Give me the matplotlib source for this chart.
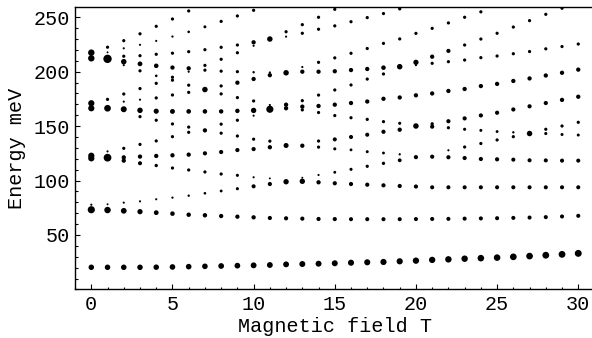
import matplotlib
matplotlib.use("Agg")
import matplotlib.pyplot as plt
from matplotlib.ticker import MultipleLocator

# magnetic field values (T), one column of levels per value
field = list(range(31))

# lowest level and its spot weight
ground = [20.3, 20.3, 20.3, 20.3, 20.4, 20.6, 20.9, 21.2, 21.5, 21.8, 22.1,
          22.4, 23.0, 23.3, 23.6, 24.0, 24.5, 24.9, 25.2, 25.8, 26.4,
          27.1, 27.6, 28.2, 28.7, 29.2, 29.9, 30.6, 31.4, 32.2, 33.1]
ground_w = [4.6, 4.6, 4.6, 4.6, 4.6, 4.7, 4.7, 4.7, 4.8, 4.8, 4.9,
            4.9, 4.9, 5.0, 5.0, 5.0, 5.1, 5.1, 5.2, 5.2, 5.3,
            5.3, 5.4, 5.4, 5.5, 5.5, 5.6, 5.6, 5.7, 5.7, 5.8]

# second level
second = [73.2, 72.9, 72.2, 71.4, 70.5, 69.6, 68.6, 68.1, 67.4, 66.8, 66.2,
          65.6, 65.3, 65.0, 64.7, 64.6, 64.5, 64.5, 64.5, 64.5, 64.6,
          64.7, 64.8, 65.0, 65.2, 65.4, 65.7, 66.0, 66.4, 67.0, 67.6]
second_w = [6.0, 5.4, 4.8, 4.4, 4.0, 3.8, 3.7, 3.7, 3.6, 3.6, 3.6,
            3.5, 3.5, 3.5, 3.5, 3.5, 3.4, 3.4, 3.4, 3.4, 3.4,
            3.4, 3.4, 3.4, 3.4, 3.4, 3.4, 3.4, 3.4, 3.4, 3.4]

# higher levels, one list per field value (meV)
upper = [
    [77.8, 120.4, 122.8, 166.4, 171.0, 212.3, 217.5],
    [78.2, 121.0, 126.8, 166.4, 174.6, 211.8, 217.8, 222.5],
    [79.7, 118.3, 121.3, 129.6, 165.5, 172.5, 179.5, 206.0, 209.2, 214.2, 221.5, 228.5],
    [80.9, 115.9, 122.0, 133.2, 158.7, 164.5, 174.3, 184.5, 200.8, 207.2, 214.7, 224.7, 234.8],
    [82.8, 113.8, 122.6, 136.4, 155.4, 163.7, 175.9, 189.3, 196.2, 205.4, 216.0, 228.3, 241.7],
    [84.3, 111.5, 123.2, 140.3, 152.0, 163.5, 178.6, 192.2, 194.9, 203.8, 217.0, 232.3, 248.4],
    [86.1, 109.7, 123.8, 144.3, 149.1, 163.5, 181.0, 187.6, 200.0, 203.1, 218.4, 236.6, 255.8],
    [88.3, 107.9, 125.0, 146.1, 163.5, 183.6, 201.4, 205.8, 220.2, 241.2],
    [90.4, 106.0, 126.2, 143.5, 151.8, 163.5, 179.6, 186.9, 200.5, 211.4, 222.4, 246.2],
    [92.5, 104.8, 128.0, 140.9, 155.4, 164.0, 176.2, 189.9, 200.0, 217.4, 224.5, 251.2],
    [94.7, 103.0, 128.9, 138.0, 159.6, 164.4, 173.1, 193.3, 199.5, 223.8, 227.0, 256.4],
    [96.8, 102.0, 130.6, 136.2, 165.5, 169.4, 196.8, 199.3, 230.0],
    [98.9, 132.2, 166.4, 169.7, 199.0, 232.2, 236.7],
    [99.3, 102.6, 132.0, 164.9, 167.9, 173.4, 200.0, 204.3, 235.3, 243.2],
    [98.4, 105.1, 130.7, 136.3, 162.5, 168.5, 178.5, 200.0, 208.6, 239.0, 250.0],
    [97.5, 107.6, 129.1, 137.8, 159.7, 169.7, 183.2, 200.4, 212.7, 242.1, 257.3],
    [96.8, 110.3, 128.2, 140.0, 157.7, 171.2, 187.8, 201.5, 216.9, 245.9],
    [96.2, 113.1, 126.5, 142.1, 156.2, 172.6, 193.2, 202.5, 221.3, 249.7],
    [95.6, 115.8, 125.3, 144.8, 154.1, 175.1, 197.9, 203.7, 226.0, 253.4],
    [95.0, 118.6, 124.1, 146.7, 152.6, 176.3, 204.6, 230.1, 257.7],
    [94.5, 121.5, 150.1, 178.3, 206.0, 208.6, 235.2],
    [93.8, 121.9, 149.5, 152.1, 180.0, 207.7, 213.8, 239.8],
    [93.8, 121.4, 127.8, 148.5, 154.5, 182.3, 209.2, 219.1, 244.8],
    [93.8, 120.7, 130.8, 147.1, 157.1, 184.1, 210.7, 224.5, 250.0],
    [93.8, 119.8, 134.0, 146.1, 159.8, 186.8, 212.9, 230.0, 255.0],
    [93.8, 119.5, 137.3, 145.0, 162.3, 188.8, 214.4, 235.3],
    [93.8, 119.2, 140.3, 144.3, 165.3, 191.5, 216.5, 241.0],
    [93.8, 118.6, 143.2, 168.2, 193.8, 218.5, 246.9],
    [93.8, 118.5, 143.2, 147.1, 171.2, 196.5, 221.0, 252.7],
    [93.8, 118.3, 142.3, 150.1, 174.1, 199.0, 223.1, 258.3],
    [93.8, 118.3, 141.8, 153.5, 177.0, 201.9, 225.4],
]

# spot weights of the higher levels, same layout as upper
upper_w = [
    [1.8, 5.2, 5.2, 5.2, 5.2, 5.4, 5.4],
    [1.6, 6.5, 1.8, 5.6, 2.7, 7.0, 1.6, 2.7],
    [1.8, 3.6, 3.6, 2.7, 5.0, 1.8, 2.7, 1.8, 4.6, 2.7, 1.8, 2.7],
    [1.8, 3.4, 3.6, 2.7, 2.7, 4.6, 1.8, 2.7, 2.7, 4.0, 2.7, 1.8, 2.7],
    [1.8, 2.8, 3.6, 2.7, 2.7, 4.3, 2.7, 2.7, 2.2, 3.8, 2.7, 1.8, 2.7],
    [1.9, 2.7, 3.6, 2.7, 2.7, 4.1, 2.7, 2.7, 2.7, 3.6, 2.7, 1.9, 2.7],
    [2.0, 2.7, 3.6, 2.7, 2.7, 3.9, 2.7, 2.7, 1.8, 3.6, 2.7, 2.2, 2.7],
    [2.2, 2.7, 3.5, 3.6, 3.8, 4.6, 2.7, 2.7, 2.7, 2.5],
    [2.4, 2.7, 3.5, 2.7, 2.7, 3.7, 2.7, 2.7, 2.7, 2.7, 2.7, 2.7],
    [2.6, 2.6, 3.5, 2.7, 2.7, 3.7, 2.7, 3.6, 2.7, 2.7, 2.7, 2.7],
    [3.4, 1.8, 3.5, 2.7, 1.8, 4.5, 2.7, 3.6, 2.0, 1.8, 3.6, 2.7],
    [3.5, 1.6, 3.6, 2.7, 6.0, 1.8, 3.6, 1.8, 4.6],
    [4.5, 4.2, 3.6, 3.6, 4.6, 1.8, 2.7],
    [4.5, 1.6, 3.6, 2.7, 3.6, 2.7, 3.6, 1.8, 2.7, 2.7],
    [3.6, 1.8, 2.7, 2.7, 2.7, 3.6, 2.7, 3.6, 2.7, 2.7, 2.7],
    [3.5, 2.4, 2.6, 3.4, 2.7, 3.6, 2.7, 3.6, 2.7, 2.7, 2.7],
    [3.5, 2.6, 2.4, 3.4, 2.7, 3.6, 2.7, 3.6, 2.7, 2.7],
    [3.5, 2.7, 2.5, 3.4, 2.7, 3.6, 2.7, 3.6, 2.7, 2.7],
    [3.5, 2.8, 2.4, 3.5, 2.7, 3.6, 2.7, 3.8, 2.7, 2.7],
    [3.5, 3.2, 1.9, 3.6, 2.6, 3.6, 4.6, 2.7, 2.7],
    [3.5, 3.5, 4.6, 3.6, 1.8, 4.4, 2.7],
    [3.4, 3.5, 3.5, 2.8, 3.6, 2.7, 3.6, 2.7],
    [3.4, 3.5, 1.8, 2.7, 3.5, 3.6, 2.7, 3.5, 2.7],
    [3.4, 3.5, 2.7, 2.6, 3.5, 3.6, 2.7, 2.7, 2.7],
    [3.4, 3.5, 2.7, 2.5, 3.5, 3.6, 2.7, 2.7, 2.7],
    [3.4, 3.5, 2.7, 2.4, 3.5, 3.6, 2.7, 2.7],
    [3.4, 3.4, 2.7, 2.0, 3.5, 3.6, 2.7, 2.7],
    [3.4, 3.4, 4.6, 3.5, 3.6, 2.7, 2.7],
    [3.4, 3.4, 2.6, 2.7, 3.5, 3.6, 2.7, 2.7],
    [3.4, 3.4, 2.5, 2.7, 3.6, 3.6, 2.7, 2.7],
    [3.4, 3.4, 2.5, 2.7, 3.6, 3.6, 2.7],
]

xs, ys, ws = [], [], []
for i, b in enumerate(field):
    xs += [b, b]
    ys += [ground[i], second[i]]
    ws += [ground_w[i], second_w[i]]
    for e, w in zip(upper[i], upper_w[i]):
        xs.append(b)
        ys.append(e)
        ws.append(w)

# weight ~ spot diameter in pixels -> marker area in pt^2
sizes = [(0.86 * w) ** 2 for w in ws]

plt.rcParams['font.family'] = ['Liberation Mono', 'DejaVu Sans Mono']
plt.rcParams['font.size'] = 14.5

fig = plt.figure(figsize=(5.92, 3.38), dpi=100)
ax = fig.add_axes([0.1268, 0.1438, 0.8774, 0.8341])

ax.scatter(xs, ys, s=sizes, c='black', linewidths=0)

ax.set_xlim(-1, 31)
ax.set_ylim(0, 259)
ax.xaxis.set_major_locator(MultipleLocator(5))
ax.xaxis.set_minor_locator(MultipleLocator(1))
ax.set_yticks([50, 100, 150, 200, 250])
ax.yaxis.set_minor_locator(MultipleLocator(10))
ax.tick_params(which='both', direction='in', width=0.8, pad=4)
ax.tick_params(which='major', length=3.3)
ax.tick_params(which='minor', length=1.8)
ax.tick_params(top=False, right=False)
ax.spines['right'].set_visible(False)
for sp in ['left', 'bottom', 'top']:
    ax.spines[sp].set_linewidth(1.0)

ax.set_xlabel('Magnetic field T', labelpad=2)
ax.set_ylabel('Energy meV', labelpad=5)

fig.savefig('out.png', dpi=100)
